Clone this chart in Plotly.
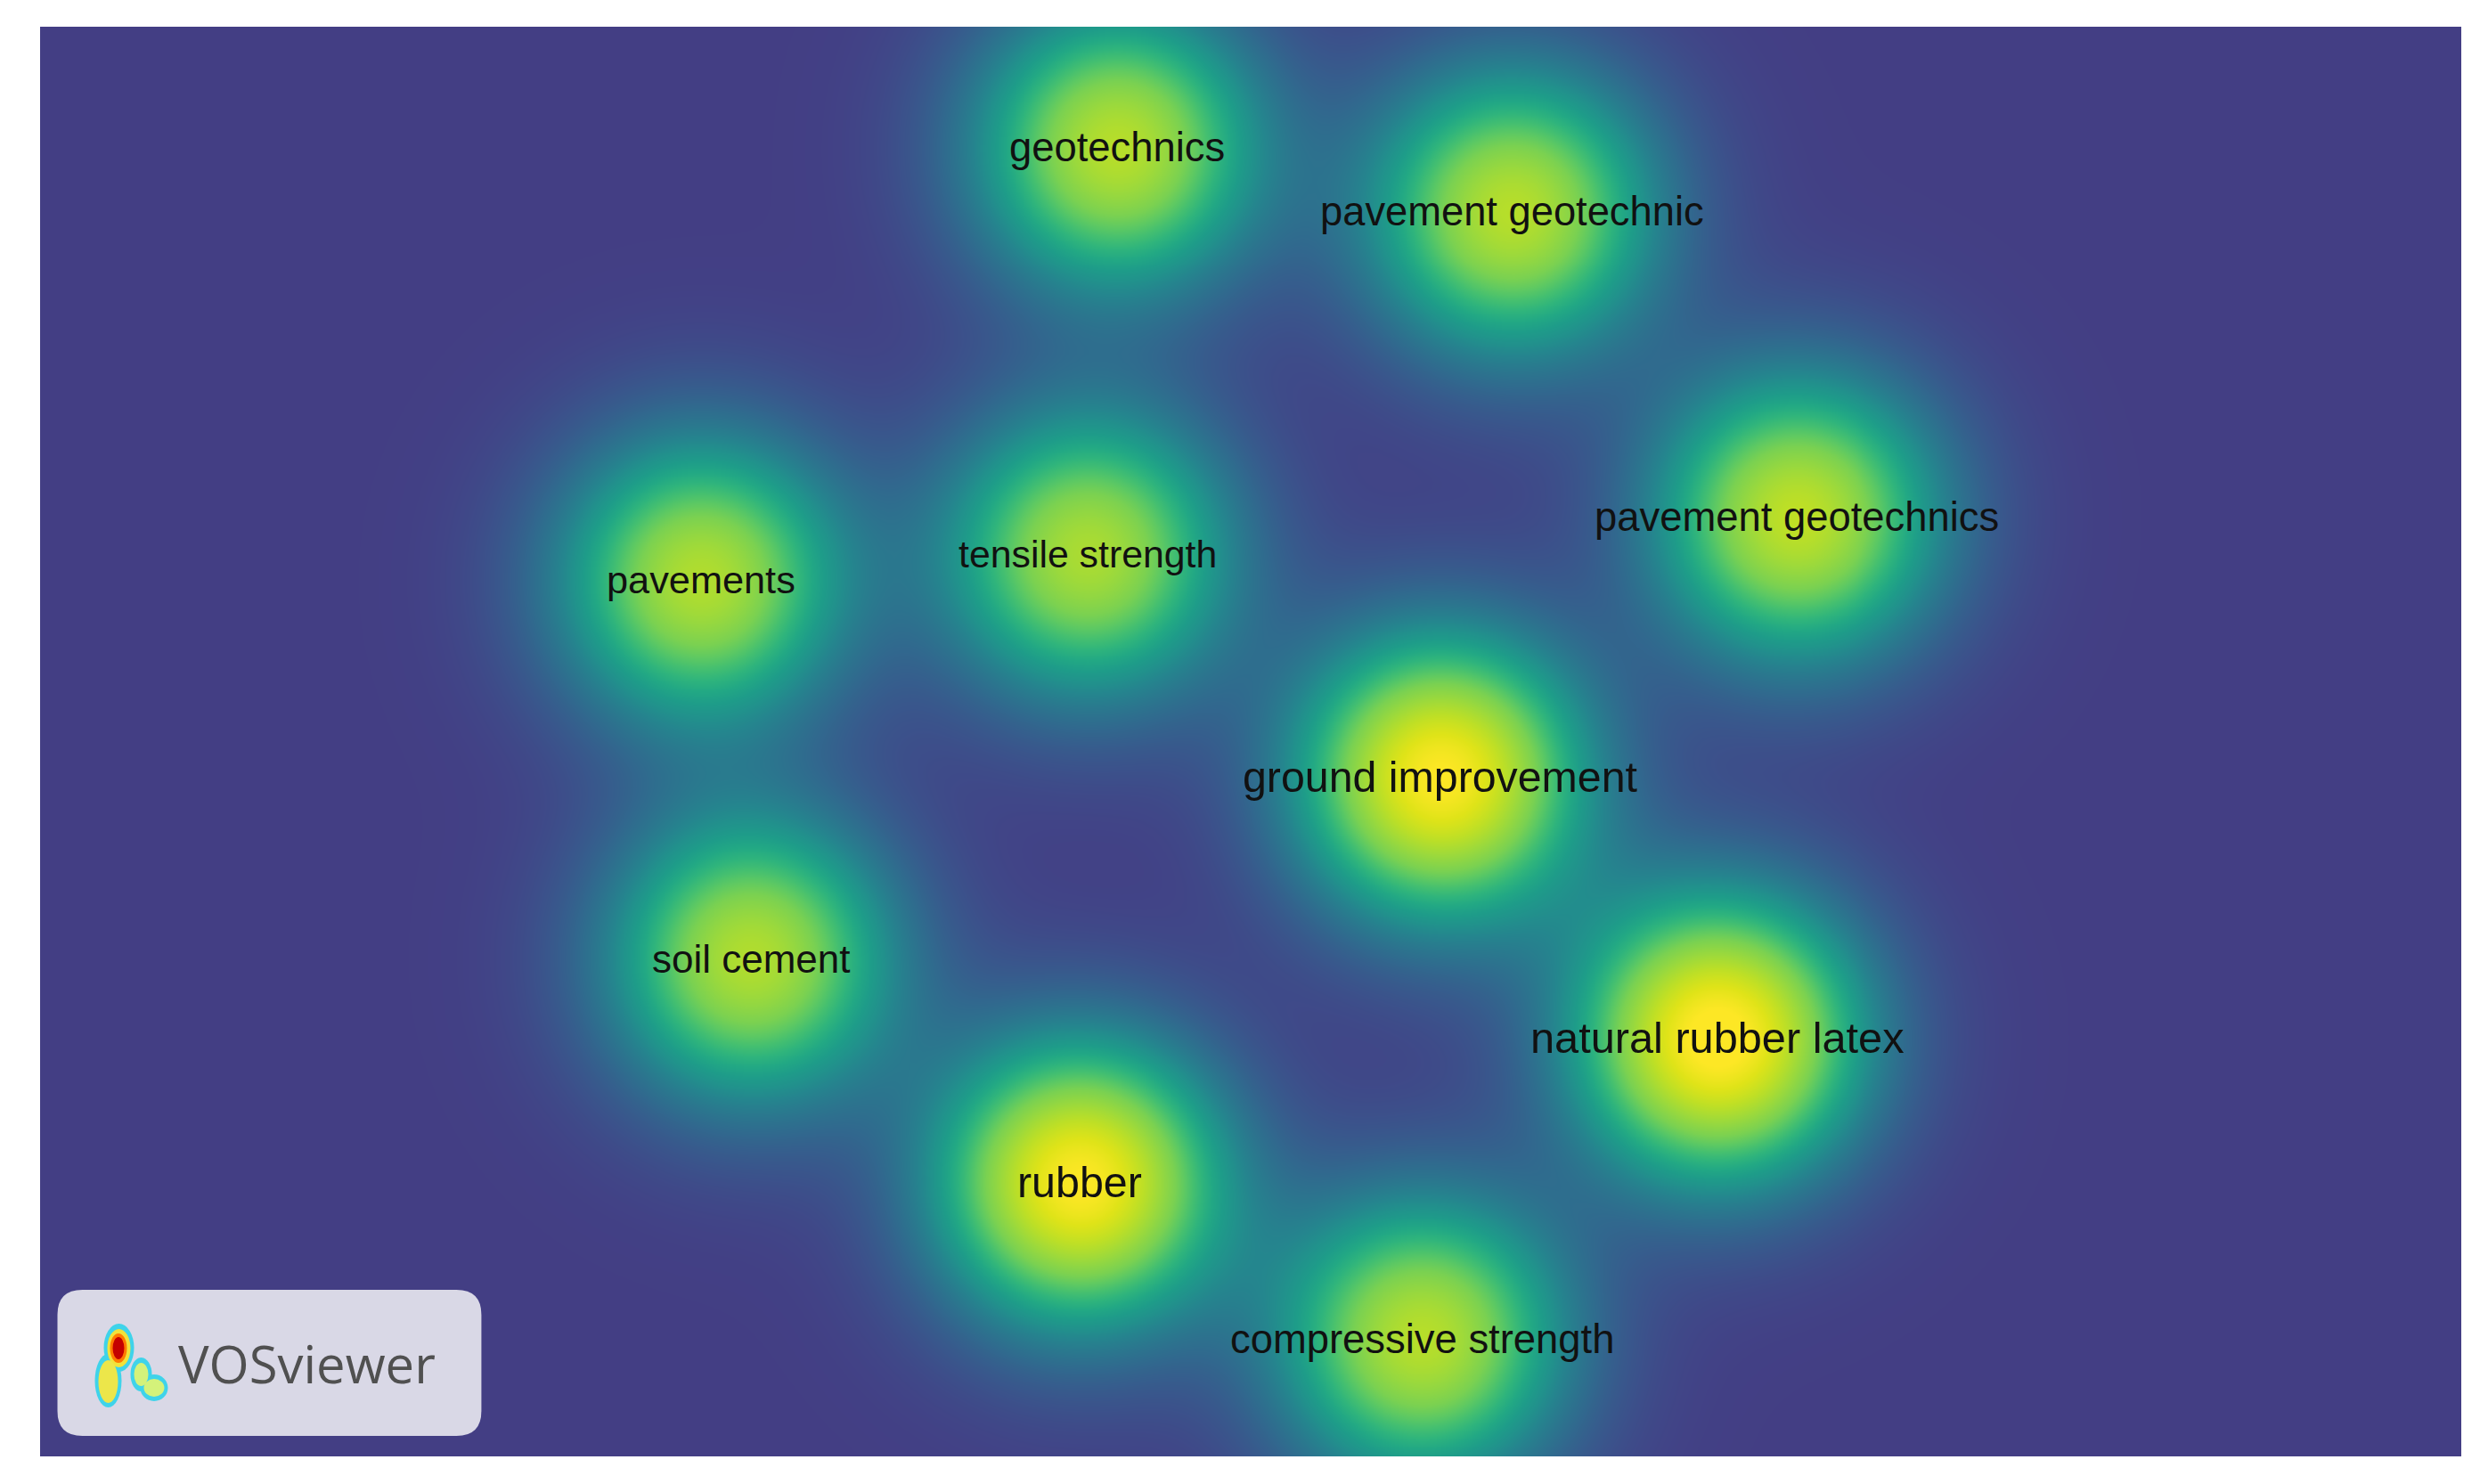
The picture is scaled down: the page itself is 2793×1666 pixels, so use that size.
import numpy as np
import plotly.graph_objects as go

# ---------------- data (VOSviewer item density map) ----------------
terms = ["geotechnics", "pavement geotechnic", "pavement geotechnics", "pavements",
         "tensile strength", "ground improvement", "soil cement",
         "natural rubber latex", "rubber", "compressive strength"]
map_x = [-0.749, 1.466, 3.066, -3.084, -0.914, 1.066, -2.804, 2.621, -0.959, 0.961]
map_y = [3.333, 2.973, 1.258, 0.908, 1.053, -0.198, -1.218, -1.663, -2.473, -3.353]
density_weight = [0.96, 0.96, 0.99, 0.94, 0.92, 1.20, 0.94, 1.25, 1.20, 0.96]

# ---------------- styling ----------------
W, H = 2793, 1666
BODY = 8                       # default page margin around the plot div
FW, FH = W - 2 * BODY, H - 2 * BODY
PW, PH = 2718.5, 1605
ML, MT = 44.5 - BODY, 30 - BODY
MR, MB = FW - ML - PW, FH - MT - PH
UNIT_PX = 200.0
X_HALF = PW / 2 / UNIT_PX
Y_HALF = PH / 2 / UNIT_PX
KERNEL_SIGMA = 0.55
Z_TOP = 1.2
LABEL_SIZE = [45.4, 45.3, 45.4, 43.3, 42.8, 48.3, 44.0, 48.7, 48.4, 45.4]
LABEL_FONT = "Liberation Sans, Arial, sans-serif"

VIRIDIS = [(0.15, '#463480'), (0.2, '#414487'), (0.25, '#3b528b'), (0.3, '#355f8d'),
           (0.35, '#2f6c8e'), (0.4, '#2a788e'), (0.45, '#25848e'), (0.5, '#21918c'),
           (0.55, '#1e9c89'), (0.6, '#22a884'), (0.65, '#2fb47c'), (0.7, '#44bf70'),
           (0.75, '#5ec962'), (0.8, '#7ad151'), (0.85, '#9bd93c'), (0.9, '#bddf26'),
           (0.95, '#dfe318'), (1.0, '#fde725')]
V0 = 0.18
BG = '#433e84'


def level_to_z(g):
    # soft saturation of the colour ramp near the top of the density range
    if g <= 0.75:
        return g
    return 0.75 + (g - 0.75) / ((1.0 - 0.75) / (Z_TOP - 0.75))


colorscale = [[0.0, BG]]
for v, c in VIRIDIS:
    if v > V0:
        g = (v - V0) / (1 - V0)
        colorscale.append([min(1.0, level_to_z(g) / Z_TOP), c])
colorscale[-1][0] = 1.0

# ---------------- density surface ----------------
gx = np.linspace(-X_HALF, X_HALF, 341)
gy = np.linspace(-Y_HALF, Y_HALF, 202)
GX, GY = np.meshgrid(gx, gy)
Z = np.zeros_like(GX)
for xi, yi, wi in zip(map_x, map_y, density_weight):
    Z += wi * np.exp(-((GX - xi) ** 2 + (GY - yi) ** 2) / (2 * KERNEL_SIGMA ** 2))

fig = go.Figure()
fig.add_trace(go.Heatmap(x=gx, y=gy, z=Z, zmin=0, zmax=Z_TOP, colorscale=colorscale,
                         zsmooth='best', showscale=False, hoverinfo='skip'))

for t, xi, yi, fs in zip(terms, map_x, map_y, LABEL_SIZE):
    fig.add_annotation(x=xi, y=yi, text=t, showarrow=False, xanchor='center', yanchor='middle',
                       font=dict(family=LABEL_FONT, size=fs, color='#111111'))

# ---------------- VOSviewer logo (decoration) ----------------
def px(xp):
    return (xp - 44.5) / PW

def py(yp):
    return (30 + PH - yp) / PH

bx0, bx1, by0, by1, r = 64, 540, 1448, 1612, 28
pts = (f"M {px(bx0 + r)},{py(by0)} L {px(bx1 - r)},{py(by0)} "
       f"Q {px(bx1)},{py(by0)} {px(bx1)},{py(by0 + r)} L {px(bx1)},{py(by1 - r)} "
       f"Q {px(bx1)},{py(by1)} {px(bx1 - r)},{py(by1)} L {px(bx0 + r)},{py(by1)} "
       f"Q {px(bx0)},{py(by1)} {px(bx0)},{py(by1 - r)} L {px(bx0)},{py(by0 + r)} "
       f"Q {px(bx0)},{py(by0)} {px(bx0 + r)},{py(by0)} Z")
fig.add_shape(type='path', path=pts, xref='paper', yref='paper',
              fillcolor='#d9d8e6', line=dict(width=0), layer='above')

icon = [
    (116, 150, 1486, 1540, '#3fd3ea'),
    (106, 136, 1520, 1580, '#3fd3ea'),
    (146, 170, 1524, 1562, '#3fd3ea'),
    (157, 188, 1543, 1573, '#3fd3ea'),
    (120, 146, 1492, 1535, '#f2e23a'),
    (110, 132, 1527, 1575, '#ece64a'),
    (150, 166, 1530, 1556, '#d4f27a'),
    (161, 184, 1548, 1568, '#d4f27a'),
    (123, 142, 1497, 1530, '#ff7a00'),
    (126, 139, 1501, 1526, '#c40000'),
]
for x0, x1, y0, y1, c in icon:
    fig.add_shape(type='circle', xref='paper', yref='paper',
                  x0=px(x0), x1=px(x1), y0=py(y1), y1=py(y0),
                  fillcolor=c, line=dict(width=0), layer='above')

fig.add_annotation(xref='paper', yref='paper', x=px(198), y=py(1530), text='VOSviewer',
                   showarrow=False, xanchor='left', yanchor='middle',
                   font=dict(family='Open Sans, sans-serif', size=58, color='#505050'))

fig.update_layout(
    width=FW, height=FH,
    margin=dict(l=ML, r=MR, t=MT, b=MB, pad=0),
    paper_bgcolor='white', plot_bgcolor=BG,
    xaxis=dict(range=[-X_HALF, X_HALF], visible=False, fixedrange=True),
    yaxis=dict(range=[-Y_HALF, Y_HALF], visible=False, fixedrange=True),
    showlegend=False,
)

fig.write_html("out.html", config={'displayModeBar': False})
